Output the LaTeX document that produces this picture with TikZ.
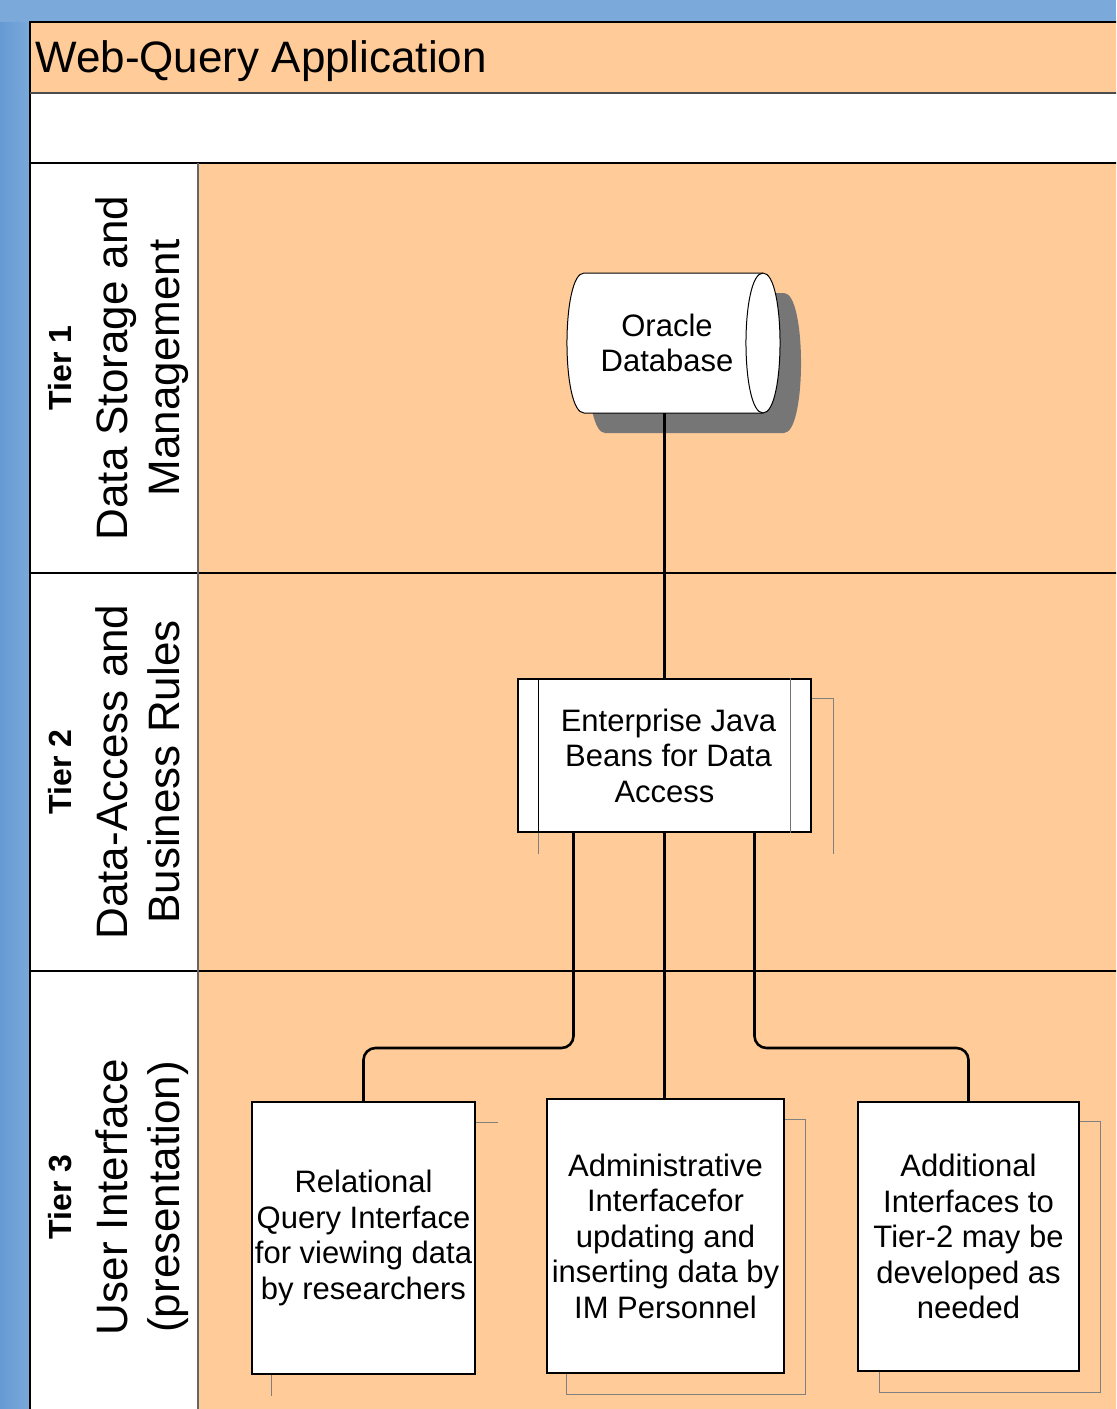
\documentclass[tikz,border=0pt]{standalone}
\usepackage{fontspec}
\setmainfont{Liberation Sans}

\definecolor{peach}{RGB}{255,204,153}
\definecolor{bgblue}{RGB}{122,169,218}
\definecolor{edgeblue}{RGB}{102,154,211}
\definecolor{shadowgray}{RGB}{118,118,118}
\definecolor{offgray}{RGB}{128,128,128}

\newcommand{\tierhead}[1]{{\fontsize{16}{19}\selectfont\bfseries #1}}

\tikzset{
  box/.style={draw=black, line width=0.7pt, fill=white, inner sep=0pt, align=center,
    font=\fontsize{15.5}{17.75}\selectfont},
  offset/.style={draw=offgray, line width=0.7pt},
  link/.style={line width=1.3pt, rounded corners=6pt},
  lanelabel/.style={rotate=90, align=center, inner sep=0pt, anchor=north,
    font=\fontsize{22}{26}\selectfont}
}

\begin{document}
\begin{tikzpicture}[x=0.5pt, y=-0.5pt]
\useasboundingbox (0,0) rectangle (1116,1409);
\clip (0,0) rectangle (1116,1409);

% Draw background
\fill[bgblue] (0,0) rectangle (1116,1409);
\shade[left color=edgeblue, right color=bgblue] (0,22) rectangle (30,1409);

% Title band and empty band
\fill[peach] (30,22) rectangle (1130,93);
\fill[white] (30,93) rectangle (1130,163);
\node[anchor=base west, inner sep=0pt, font=\fontsize{22}{26}\selectfont] (title) at (35,72) {Web-Query Application};

% Lanes
\fill[white] (30,163) rectangle (198,1430);
\fill[peach] (198,163) rectangle (1130,1430);
\draw[line width=1pt] (30,1430) -- (30,22) -- (1130,22);
\draw[line width=1pt, draw=black!70] (30,93) -- (1130,93);
\draw[line width=1pt] (30,163) -- (1130,163);
\draw[line width=0.8pt] (30,573) -- (1130,573);
\draw[line width=0.8pt] (30,971) -- (1130,971);
\draw[line width=1pt, draw=black!60] (198,163) -- (198,1430);

\node[lanelabel] (tier1) at (48,368) {\tierhead{Tier 1}\\[2pt]Data Storage and\\Management};
\node[lanelabel] (tier2) at (48,772) {\tierhead{Tier 2}\\[2pt]Data-Access and\\Business Rules};
\node[lanelabel] (tier3) at (48,1197) {\tierhead{Tier 3}\\[2pt]User Interface\\(presentation)};

% Database drum with its shadow
\fill[shadowgray] (605,293) -- (784,293) .. controls (806.7,293) and (806.7,433) .. (784,433)
  -- (605,433) .. controls (582.3,433) and (582.3,293) .. (605,293) -- cycle;
\filldraw[fill=white, draw=black, line width=0.5pt] (584,273) -- (763,273)
  .. controls (785.7,273) and (785.7,413) .. (763,413)
  -- (584,413) .. controls (561.3,413) and (561.3,273) .. (584,273) -- cycle;
\draw[line width=0.5pt] (763,273) .. controls (740.3,273) and (740.3,413) .. (763,413);
\node[align=center, inner sep=0pt, minimum height=70pt, font=\fontsize{15.5}{17.75}\selectfont] (db) at (667,343) {Oracle\\Database};

% Tier 2 box
\node[box, minimum width=146.5pt, minimum height=76.5pt] (ejb) at (664.5,755.5) {\hspace*{4pt}Enterprise Java\\\hspace*{4pt}Beans for Data\\Access};
\draw[line width=0.7pt] ([xshift=10.5pt]ejb.north west) -- ([xshift=10.5pt]ejb.south west);
\draw[line width=0.7pt, draw=black!55] ([xshift=-10.5pt]ejb.north east) -- ([xshift=-10.5pt]ejb.south east);
\draw[offset] ([yshift=-10pt]ejb.north east) -| ([shift={(11pt,-10.5pt)}]ejb.south east);
\draw[offset] ([xshift=10.5pt]ejb.south west) -- ++(0,21);

% Tier 3 boxes
\node[box, minimum width=111.5pt, minimum height=136pt] (relq) at (363.5,1238) {Relational\\Query Interface\\for viewing data\\by researchers};
\node[box, minimum width=118.5pt, minimum height=137pt] (admin) at (665.5,1236) {Administrative\\Interfacefor\\updating and\\inserting data by\\IM Personnel};
\node[box, minimum width=110.5pt, minimum height=134.5pt] (addif) at (968.5,1236.5) {Additional\\Interfaces to\\Tier-2 may be\\developed as\\needed};
\draw[offset] ([yshift=-10.5pt]relq.north east) -- ++(22,0);
\draw[offset] ([xshift=10pt]relq.south west) -- ++(0,21);
\draw[offset] ([yshift=-10.5pt]admin.north east) -| ([shift={(10.5pt,-10.5pt)}]admin.south east) -| ([xshift=10pt]admin.south west);
\draw[offset] ([yshift=-10pt]addif.north east) -| ([shift={(10.5pt,-10.5pt)}]addif.south east) -| ([xshift=11pt]addif.south west);

% Connectors
\coordinate (busL) at (470,1048);
\coordinate (busR) at (860,1048);
\draw[link] (ejb.north) -- (ejb.north |- db.south);
\draw[link] ([xshift=-45.5pt]ejb.south) |- (busL) -| (relq.north);
\draw[link] (ejb.south) -- (ejb.south |- admin.north);
\draw[link] ([xshift=45pt]ejb.south) |- (busR) -| (addif.north);
\end{tikzpicture}
\end{document}
